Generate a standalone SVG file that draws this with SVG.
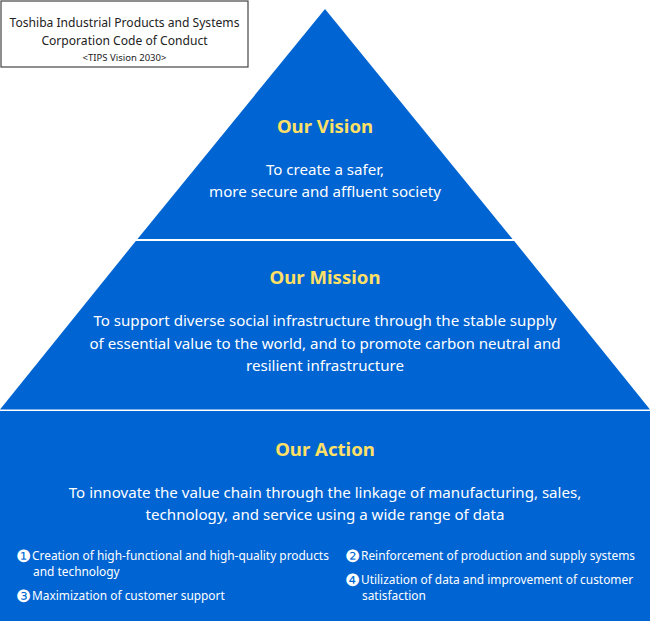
<svg xmlns="http://www.w3.org/2000/svg" width="650" height="621" viewBox="0 0 650 621">
<style>
.blk{fill:#0064D2}
.t{font-family:"Noto Sans","DejaVu Sans",sans-serif;fill:#fff;text-anchor:middle}
.h{font-family:"Noto Sans","DejaVu Sans",sans-serif;fill:#FFE066;font-weight:bold;font-size:18.6px;text-anchor:middle}
.b{font-size:15.1px}
.s{font-family:"Noto Sans","DejaVu Sans",sans-serif;fill:#fff;font-size:11.9px}
.n{font-family:"DejaVu Sans",sans-serif;fill:#fff;font-size:17px}
.k{font-family:"Noto Sans","DejaVu Sans",sans-serif;fill:#222;text-anchor:middle}
</style>
<rect width="650" height="621" fill="#fff"/>
<g id="vision">
<polygon class="blk" points="325,9 512.5,239 137.5,239"/>
<text class="h" x="325" y="133">Our Vision</text>
<text class="t b" x="325" y="175">To create a safer,</text>
<text class="t b" x="325" y="197">more secure and affluent society</text>
</g>
<g id="mission">
<polygon class="blk" points="135.8,241 514.2,241 650,409.5 0,409.5"/>
<text class="h" x="325" y="284">Our Mission</text>
<text class="t b" x="325" y="326">To support diverse social infrastructure through the stable supply</text>
<text class="t b" x="325" y="349">of essential value to the world, and to promote carbon neutral and</text>
<text class="t b" x="325" y="371">resilient infrastructure</text>
</g>
<g id="action">
<rect class="blk" x="0" y="411" width="650" height="210"/>
<text class="h" x="325" y="456">Our Action</text>
<text class="t b" x="325" y="498">To innovate the value chain through the linkage of manufacturing, sales,</text>
<text class="t b" x="325" y="520">technology, and service using a wide range of data</text>
<text class="n" x="16" y="561.5">❶</text>
<text class="s" x="32" y="560">Creation of high-functional and high-quality products</text>
<text class="s" x="33" y="576">and technology</text>
<text class="n" x="16" y="601.5">❸</text>
<text class="s" x="32" y="600">Maximization of customer support</text>
<text class="n" x="345" y="561.5">❷</text>
<text class="s" x="361" y="560">Reinforcement of production and supply systems</text>
<text class="n" x="345" y="585.5">❹</text>
<text class="s" x="361" y="584">Utilization of data and improvement of customer</text>
<text class="s" x="362" y="600">satisfaction</text>
</g>
<g id="title">
<rect x="1" y="1" width="247" height="66" fill="#fff" stroke="#444" stroke-width="1.2"/>
<text class="k" x="124.5" y="27" font-size="12.1">Toshiba Industrial Products and Systems</text>
<text class="k" x="124.5" y="45" font-size="12.1">Corporation Code of Conduct</text>
<text class="k" x="124.5" y="61" font-size="9.5">&lt;TIPS Vision 2030&gt;</text>
</g>
<g id="connectors"/>
</svg>
